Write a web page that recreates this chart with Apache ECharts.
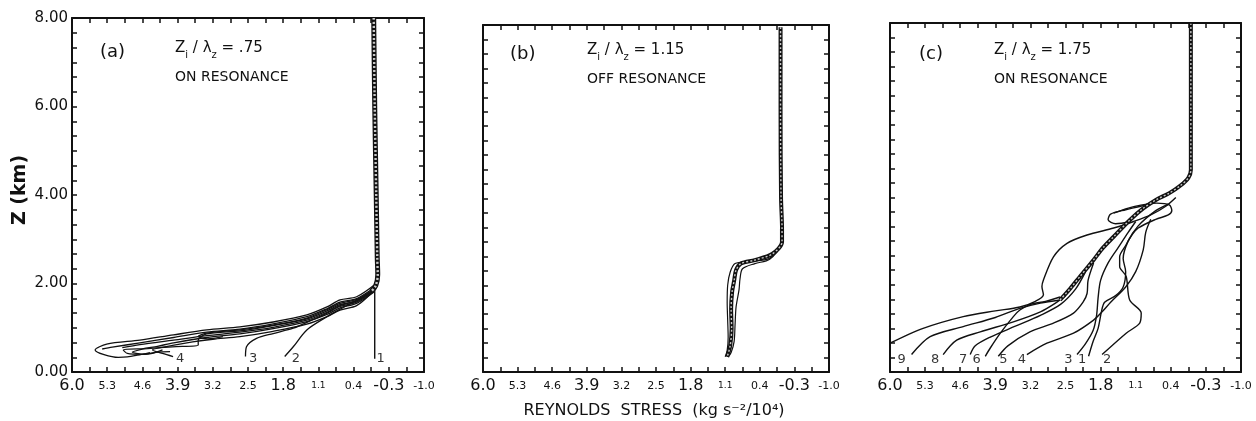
<!DOCTYPE html>
<html><head><meta charset="utf-8">
<script src="https://cdn.jsdelivr.net/npm/echarts@6/dist/echarts.min.js"></script>
<style>html,body{margin:0;padding:0;background:#fff}#c{width:1256px;height:421px}</style>
</head><body><div id="c"></div>
<script>
// ---- tick labels ----
const xTickLabels = ['-1.0','-0.3','0.4','1.1','1.8','2.5','3.2','3.9','4.6','5.3','6.0'];
const xBigTicks = ['6.0','3.9','1.8','-0.3'];
const xTinyTicks = ['1.1'];
const yTickLabels = ['0.00','2.00','4.00','6.00','8.00'];

// ---- panel (a) : Zi/λz = .75, on resonance ----
const aRope = [[0.0,8.0],[-0.02,6.0],[-0.05,4.0],[-0.07,2.6],[-0.08,2.2],[-0.04,1.95],[0.05,1.82]];
const aLine1 = [[-0.02,2.0],[-0.02,0.3]];
const aS1 = [[-0.05,2.0],[0.34,1.70],[0.67,1.63],[0.93,1.47],[1.33,1.29],[2.0,1.13],[2.66,1.02],[3.32,0.95],[3.98,0.84],[4.65,0.72],[5.31,0.63],[5.54,0.50],[5.08,0.33],[4.9,0.34],[4.7,0.38],[4.45,0.44]];
const aS2 = [[0.0,1.85],[0.34,1.60],[0.67,1.52],[0.93,1.38],[1.33,1.20],[2.0,1.05],[2.66,0.93],[3.32,0.86],[3.49,0.72],[3.49,0.61],[4.0,0.57],[4.5,0.53],[4.98,0.50],[4.9,0.42],[4.6,0.40],[4.3,0.45],[4.05,0.46]];
const aS3 = [[0.0,1.80],[0.34,1.55],[0.67,1.45],[0.93,1.30],[1.33,1.14],[2.0,0.98],[2.66,0.86],[3.32,0.78],[3.98,0.66],[4.3,0.58],[4.6,0.52],[4.8,0.45],[4.6,0.40],[4.4,0.42],[4.2,0.50]];
const aS4 = [[0.05,1.78],[0.34,1.50],[0.67,1.40],[0.93,1.25],[1.33,1.08],[2.0,0.92],[2.66,0.80],[3.2,0.74],[3.6,0.68],[4.0,0.60],[4.4,0.50],[4.2,0.42],[3.99,0.35]];
const aS7 = [[0.0,1.90],[0.34,1.66],[0.67,1.58],[0.93,1.43],[1.33,1.25],[2.0,1.09],[2.66,0.97],[3.32,0.90],[3.98,0.78],[4.65,0.66],[5.2,0.56],[5.4,0.52]];
const aS8 = [[0.0,1.87],[0.34,1.64],[0.67,1.55],[0.93,1.41],[1.33,1.22],[2.0,1.06],[2.66,0.95],[3.32,0.88],[3.49,0.80],[3.3,0.75],[3.0,0.80]];
const aS9 = [[0.0,1.83],[0.34,1.62],[0.67,1.50],[0.93,1.35],[1.33,1.17],[2.0,1.01],[2.66,0.90],[3.32,0.82],[3.98,0.72],[4.65,0.62],[5.0,0.55]];
const aCurve3 = [[0.0,1.82],[0.34,1.58],[0.67,1.48],[0.93,1.33],[1.33,1.12],[1.60,0.99],[2.0,0.87],[2.33,0.76],[2.53,0.57],[2.55,0.35]];
const aCurve2 = [[0.0,1.84],[0.34,1.62],[0.67,1.42],[0.93,1.25],[1.33,0.95],[1.60,0.57],[1.77,0.35]];
const aLabels = [['1',-0.14,0.30],['2',1.55,0.30],['3',2.40,0.30],['4',3.85,0.30]];

// ---- panel (b) : Zi/λz = 1.15, off resonance ----
const bRope = [[-0.02,7.95],[-0.02,6.0],[-0.03,4.0],[-0.05,3.3],[-0.05,3.0],[0.15,2.72],[0.5,2.58],[0.78,2.5],[0.88,2.35],[0.92,2.1],[0.96,1.85],[0.98,1.45],[0.97,1.0],[1.0,0.6],[1.06,0.35]];
const bS1 = [[-0.05,3.0],[0.2,2.62],[0.6,2.55],[0.9,2.5],[1.0,2.3],[1.05,2.0],[1.06,1.6],[1.05,1.2],[1.04,0.8],[1.06,0.5],[1.10,0.35]];
const bS2 = [[-0.02,3.3],[-0.02,2.95],[0.2,2.6],[0.5,2.5],[0.75,2.38],[0.8,2.15],[0.82,1.9],[0.88,1.5],[0.9,1.1],[0.92,0.7],[0.98,0.45],[1.04,0.35]];

// ---- panel (c) : Zi/λz = 1.75, on resonance ----
const cRope = [[2.61,1.65],[2.40,1.92],[2.21,2.19],[1.94,2.57],[1.75,2.85],[1.54,3.10],[1.21,3.49],[0.95,3.75],[0.69,3.95],[0.43,4.10],[0.20,4.28],[0.05,4.45],[0.0,4.63],[0.0,6.0],[0.0,7.98]];
const c9 = [[5.57,0.40],[5.2,0.81],[4.54,1.04],[3.9,1.25],[3.41,1.46],[3.0,1.58],[2.61,1.65]];
const cLeft = [[6.0,0.66],[5.34,1.0],[4.54,1.27],[3.9,1.40],[3.41,1.49],[3.1,1.62],[2.94,1.77],[2.97,1.96],[2.94,2.11],[2.74,2.64],[2.47,2.95],[2.07,3.14],[1.54,3.30],[1.14,3.45],[0.8,3.6],[0.5,3.8],[0.3,4.0]];
const c8 = [[4.94,0.40],[4.67,0.73],[4.20,0.92],[3.54,1.15],[3.0,1.38],[2.7,1.58],[2.5,1.75]];
const c7 = [[4.40,0.40],[4.30,0.60],[4.0,0.80],[3.5,1.05],[3.0,1.30],[2.6,1.55],[2.3,1.90],[2.1,2.3]];
const c6 = [[4.10,0.36],[4.0,0.55],[3.80,0.89],[3.54,1.27],[3.41,1.42],[3.2,1.55],[2.9,1.62],[2.61,1.72]];
const c5 = [[3.84,0.36],[3.65,0.6],[3.21,0.92],[2.74,1.12],[2.34,1.35],[2.15,1.6],[2.07,1.80],[2.05,2.1],[1.94,2.5]];
const c4 = [[3.27,0.40],[2.87,0.66],[2.34,0.89],[1.94,1.19],[1.77,1.38],[1.6,1.6],[1.3,1.95],[1.1,2.3],[0.95,2.8],[0.9,3.2],[0.8,3.5]];
const c3 = [[2.27,0.40],[2.1,0.65],[1.95,0.95],[1.88,1.3],[1.85,1.7],[1.8,2.1],[1.65,2.5],[1.45,2.85],[1.25,3.2],[1.1,3.45]];
const c1 = [[2.04,0.36],[1.95,0.7],[1.85,1.0],[1.78,1.4],[1.72,1.6],[1.5,1.75],[1.35,1.95],[1.3,2.3],[1.35,2.6],[1.25,3.0],[1.05,3.35],[0.7,3.7],[0.45,3.85]];
const c2 = [[1.77,0.40],[1.29,0.89],[1.02,1.12],[0.99,1.35],[1.22,1.65],[1.29,2.19],[1.42,2.42],[1.42,2.64],[1.3,2.9],[1.2,3.1],[1.05,3.3],[0.7,3.5],[0.45,3.6],[0.38,3.7],[0.43,3.83],[0.68,3.87],[1.14,3.79],[1.54,3.64]];
const cLoop = [[1.2,3.45],[1.5,3.40],[1.65,3.49],[1.6,3.62],[1.3,3.72],[1.0,3.80],[0.75,3.90]];
const cLabels = [['9',5.77,0.28],['8',5.10,0.28],['7',4.54,0.28],['6',4.27,0.28],['5',3.74,0.28],['4',3.37,0.28],['3',2.44,0.28],['1',2.17,0.28],['2',1.67,0.28]];

// ---- layout ----
const FONT = 'DejaVu Sans';
const INK = '#111';
const grids = [
  {left:72, top:18, width:352, height:354},
  {left:483, top:25, width:346, height:347},
  {left:890, top:23, width:351, height:349}
];

function xFmt(v){
  const t = (Math.round(v*10)/10).toFixed(1);
  const s = xTickLabels.includes(t) ? t : t;
  if (xBigTicks.includes(s)) return '{b|'+s+'}';
  if (xTinyTicks.includes(s)) return '{t|'+s+'}';
  return '{s|'+s+'}';
}
function yFmt(v){
  const i = Math.round(v/2);
  return yTickLabels[i] !== undefined ? yTickLabels[i] : v.toFixed(2);
}
const tickCommon = {
  axisLine:{onZero:false, lineStyle:{color:INK, width:2}},
  axisTick:{inside:true, length:5, lineStyle:{color:INK, width:1.5}},
  splitLine:{show:false}, minorSplitLine:{show:false}
};
const xAxes = [], yAxes = [];
grids.forEach((g, gi) => {
  ['bottom','top'].forEach(pos => {
    xAxes.push(Object.assign({
      gridIndex:gi, type:'value', min:-1.0, max:6.0, interval:0.7, inverse:true, position:pos,
      minorTick:{show:true, splitNumber:2, length:5, lineStyle:{color:INK, width:1.5}},
      axisLabel: pos==='bottom' ? {show:true, margin:4, formatter:xFmt, color:INK,
        rich:{
          b:{fontSize:16, fontFamily:FONT, color:INK, lineHeight:20},
          s:{fontSize:11, fontFamily:FONT, color:INK, lineHeight:20},
          t:{fontSize:9, fontFamily:FONT, color:INK, lineHeight:20}
        }} : {show:false}
    }, tickCommon));
  });
  ['left','right'].forEach(pos => {
    yAxes.push(Object.assign({
      gridIndex:gi, type:'value', min:0, max:8, interval:2, position:pos,
      minorTick:{show:true, splitNumber:6, length:5, lineStyle:{color:INK, width:1.5}},
      axisLabel: (pos==='left' && gi===0) ? {show:true, margin:4, formatter:yFmt, color:INK, fontSize:15, fontFamily:FONT} : {show:false}
    }, tickCommon));
  });
});

const series = [];
function strand(gi, data, w){
  series.push({type:'line', xAxisIndex:gi*2, yAxisIndex:gi*2, data:data, symbol:'none', smooth:0.3,
    lineStyle:{color:INK, width:w||1.1}, silent:true, z:3});
}
function rope(gi, data, w){
  series.push({type:'line', xAxisIndex:gi*2, yAxisIndex:gi*2, data:data, symbol:'none', smooth:0.3,
    lineStyle:{color:INK, width:w}, silent:true, z:4});
  series.push({type:'line', xAxisIndex:gi*2, yAxisIndex:gi*2, data:data, symbol:'none', smooth:0.3,
    lineStyle:{color:'#c8c8c8', width:Math.max(1, w-2.6), type:[2,2]}, silent:true, z:5});
}
function labels(gi, arr){
  series.push({type:'scatter', xAxisIndex:gi*2, yAxisIndex:gi*2, symbolSize:1, silent:true,
    itemStyle:{color:'rgba(0,0,0,0)'},
    data: arr.map(a => ({name:a[0], value:[a[1], a[2]]})),
    label:{show:true, position:'inside', formatter:'{b}', fontSize:13, fontFamily:FONT, color:'#000'}, z:6});
}

// panel a
[aS1,aS2,aS3,aS4,aS7,aS8,aS9,aCurve3,aCurve2].forEach(d => strand(0, d, 1.3));
strand(0, aLine1, 1.4);
rope(0, aRope, 5);
labels(0, aLabels);
// panel b
strand(1, bS1, 1.2); strand(1, bS2, 1.2);
rope(1, bRope, 4);
labels(1, []);
// panel c
[c9,cLeft,c8,c7,c6,c5,c4,c3,c1,c2,cLoop].forEach(d => strand(2, d, 1.4));
rope(2, cRope, 4);
labels(2, cLabels);

function ztext(x, y, val){
  return {type:'text', left:x, top:y, silent:true, style:{
    text:'{m|Z}{s|i}{m| / λ}{s|z}{m| = '+val+'}', fill:INK,
    rich:{ m:{fontSize:15, fontFamily:FONT, fill:INK, lineHeight:24, verticalAlign:'middle'},
           s:{fontSize:10, fontFamily:FONT, fill:INK, lineHeight:24, verticalAlign:'bottom'} }
  }};
}
function ptext(x, y, txt, size){
  return {type:'text', left:x, top:y, silent:true, style:{text:txt, font:(size||15)+'px "'+FONT+'"', fill:INK}};
}

const graphic = [
  ptext(100, 43, '(a)', 18), ztext(175, 41, '.75'), ptext(175, 70, 'ON RESONANCE', 14),
  ptext(510, 45, '(b)', 18), ztext(587, 43, '1.15'), ptext(587, 72, 'OFF RESONANCE', 14),
  ptext(919, 45, '(c)', 18), ztext(994, 43, '1.75'), ptext(994, 72, 'ON RESONANCE', 14),
  {type:'text', x:20, y:190, rotation:Math.PI/2, silent:true, style:{text:'Z (km)', font:'bold 19px "'+FONT+'"', fill:INK, align:'center', verticalAlign:'middle'}},
  {type:'text', x:654, y:411, silent:true, style:{text:'REYNOLDS  STRESS  (kg s⁻²/10⁴)', font:'16px "'+FONT+'"', fill:INK, align:'center', verticalAlign:'middle'}}
];

const chart = echarts.init(document.getElementById('c'), null, {renderer:'canvas'});
chart.setOption({
  animation:false,
  backgroundColor:'#fff',
  grid: grids.map(g => Object.assign({outerBoundsMode:'none', containLabel:false}, g)),
  xAxis: xAxes, yAxis: yAxes, series: series, graphic: graphic
});
</script></body></html>
